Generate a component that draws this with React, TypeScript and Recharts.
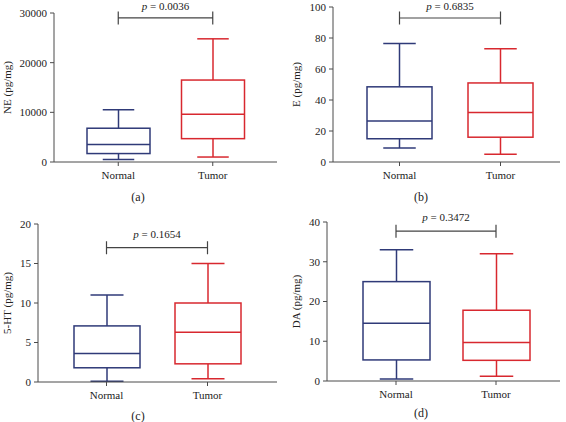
import React from 'react';
import { ComposedChart, Bar, XAxis, YAxis, ReferenceLine, Label } from 'recharts';

const groups = ['Normal', 'Tumor'];

// five-number summaries: [min, q1, median, q3, max]
const neNormal = [500, 1700, 3500, 6800, 10500];
const neTumor = [1000, 4700, 9600, 16500, 24800];
const eNormal = [9, 15, 26.5, 48.5, 76.5];
const eTumor = [5, 16, 32, 51, 73];
const htNormal = [0.1, 1.8, 3.6, 7.1, 11];
const htTumor = [0.4, 2.3, 6.3, 10, 15];
const daNormal = [0.5, 5.3, 14.5, 25, 33];
const daTumor = [1.2, 5.2, 9.7, 17.8, 32];

const neTicks = [0, 10000, 20000, 30000];
const eTicks = [0, 20, 40, 60, 80, 100];
const htTicks = [0, 5, 10, 15, 20];
const daTicks = [0, 10, 20, 30, 40];

const pValues = ['0.0036', '0.6835', '0.1654', '0.3472'];
const bracketLevels = [29000, 92.9, 17, 37.7];

const FONT = '"Liberation Serif", "Times New Roman", serif';
const COLORS = ['#2f3a78', '#d8282f'];
const AXIS = '#4a4a4a';

const BoxShape = (props: any) => {
  const { x, y, width, height, payload } = props;
  const [mn, q1, med, q3, mx] = payload.stats;
  const top = Math.min(y, y + height);
  const bottom = Math.max(y, y + height);
  const py = (v: number) => bottom - ((v - mn) / (mx - mn)) * (bottom - top);
  const cx = x + width / 2;
  const cap = width / 4;
  const c = payload.color;
  return (
    <g stroke={c} strokeWidth={1.5} fill="none">
      <line x1={cx} x2={cx} y1={py(mx)} y2={py(q3)} />
      <line x1={cx} x2={cx} y1={py(q1)} y2={py(mn)} />
      <line x1={cx - cap} x2={cx + cap} y1={py(mx)} y2={py(mx)} />
      <line x1={cx - cap} x2={cx + cap} y1={py(mn)} y2={py(mn)} />
      <rect x={x} y={py(q3)} width={width} height={py(q1) - py(q3)} fill="#fff" />
      <line x1={x} x2={x + width} y1={py(med)} y2={py(med)} />
    </g>
  );
};

const Bracket = (props: any) => {
  const { x1, y1, x2, p } = props;
  return (
    <g>
      <path
        d={`M${x1},${y1 - 6.5}V${y1 + 6.5}M${x1},${y1}H${x2}M${x2},${y1 - 6.5}V${y1 + 6.5}`}
        stroke="#444"
        strokeWidth={1.2}
        fill="none"
      />
      <text x={(x1 + x2) / 2} y={Math.max(y1 - 10, 10)} textAnchor="middle" fontSize={11} fontFamily={FONT} fill="#222">
        <tspan fontStyle="italic">p</tspan> = {p}
      </text>
    </g>
  );
};

const panels = [
  { normal: neNormal, tumor: neTumor, ticks: neTicks, label: 'NE (pg/mg)', caption: '(a)', left: 0, top: 0,
    margin: { top: 13, right: 6, bottom: 19, left: 0 }, yWidth: 54, pad: { left: 17, right: 17 }, barSize: 63, labelX: 7 },
  { normal: eNormal, tumor: eTumor, ticks: eTicks, label: 'E (pg/mg)', caption: '(b)', left: 283, top: 0,
    margin: { top: 7, right: 6, bottom: 19, left: 0 }, yWidth: 50, pad: { left: 16, right: 9 }, barSize: 65, labelX: 13 },
  { normal: htNormal, tumor: htTumor, ticks: htTicks, label: '5-HT (pg/mg)', caption: '(c)', left: 0, top: 211,
    margin: { top: 13, right: 6, bottom: 10, left: 0 }, yWidth: 38, pad: { left: 18, right: 19 }, barSize: 66, labelX: 7 },
  { normal: daNormal, tumor: daTumor, ticks: daTicks, label: 'DA (pg/mg)', caption: '(d)', left: 283, top: 211,
    margin: { top: 11, right: 6, bottom: 11, left: 0 }, yWidth: 44, pad: { left: 19, right: 14 }, barSize: 67, labelX: 13 },
];

const captionTops = [190, 190, 409, 406];

const Panel = ({ cfg, idx }: { cfg: any; idx: number }) => {
  const rows = groups.map((g, i) => {
    const s = i === 0 ? cfg.normal : cfg.tumor;
    return { name: g, range: [s[0], s[4]], stats: s, color: COLORS[i] };
  });
  const ticks: number[] = cfg.ticks;
  const level = bracketLevels[idx];
  return (
    <div style={{ position: 'absolute', left: cfg.left, top: cfg.top, width: 283, height: 211 }}>
      <ComposedChart width={283} height={211} data={rows} margin={cfg.margin}>
        <XAxis
          dataKey="name"
          type="category"
          padding={cfg.pad}
          height={30}
          stroke={AXIS}
          tickSize={4}
          tickMargin={5}
          tick={{ fill: '#222', fontSize: 11, fontFamily: FONT }}
        />
        <YAxis
          type="number"
          domain={[0, ticks[ticks.length - 1]]}
          ticks={ticks}
          interval={0}
          width={cfg.yWidth}
          stroke={AXIS}
          tickSize={4}
          tickMargin={3}
          tick={{ fill: '#222', fontSize: 11, fontFamily: FONT }}
        >
          <Label
            content={(lp: any) => {
              const vb = lp.viewBox;
              const cy = vb.y + vb.height / 2;
              return (
                <text
                  x={cfg.labelX}
                  y={cy}
                  transform={`rotate(-90 ${cfg.labelX} ${cy})`}
                  textAnchor="middle"
                  dominantBaseline="central"
                  fontSize={11}
                  fontFamily={FONT}
                  fill="#222"
                >
                  {cfg.label}
                </text>
              );
            }}
          />
        </YAxis>
        <Bar dataKey="range" barSize={cfg.barSize} shape={BoxShape} isAnimationActive={false} />
        <ReferenceLine
          segment={[{ x: groups[0], y: level }, { x: groups[1], y: level }]}
          ifOverflow="visible"
          shape={(p: any) => <Bracket {...p} p={pValues[idx]} />}
        />
      </ComposedChart>
      <div
        style={{
          position: 'absolute',
          left: 0,
          width: 276,
          top: captionTops[idx] - cfg.top,
          textAlign: 'center',
          fontFamily: FONT,
          fontSize: 12,
          color: '#222',
        }}
      >
        {cfg.caption}
      </div>
    </div>
  );
};

export default function App() {
  return (
    <div style={{ position: 'absolute', left: 0, top: 0, width: 566, height: 422, background: '#fff' }}>
      {panels.map((cfg, i) => (
        <Panel key={cfg.caption} cfg={cfg} idx={i} />
      ))}
    </div>
  );
}
